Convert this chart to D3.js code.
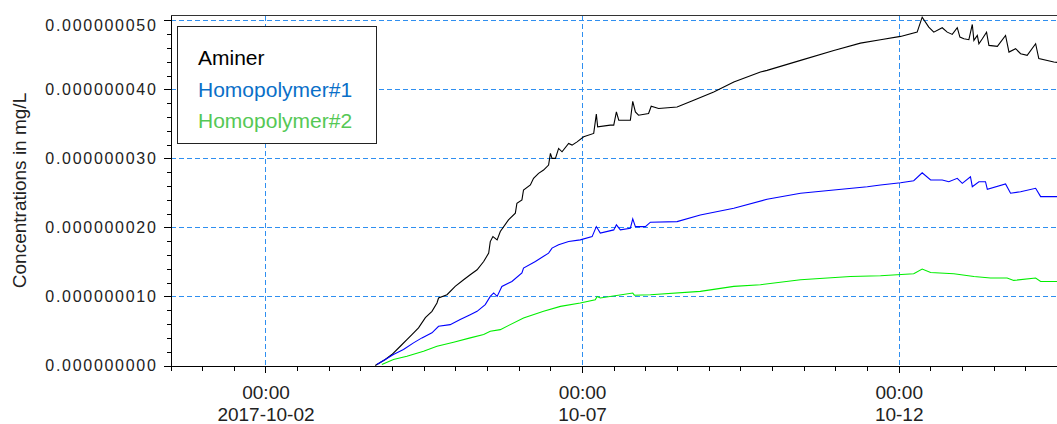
<!DOCTYPE html>
<html>
<head>
<script src="https://d3js.org/d3.v7.min.js"></script>
<style>
body { margin: 0; background: #fff; }
svg { font-family: "Liberation Sans", Arial, sans-serif; }
.axis path, .axis line { stroke: #000; shape-rendering: crispEdges; }
.ylab text { fill: #222; font-size: 16px; letter-spacing: 1.7px; }
.xlab text { fill: #222; font-size: 19px; }
.grid line { stroke: #2f8ff0; stroke-dasharray: 5,3; shape-rendering: crispEdges; }
.series { fill: none; stroke-width: 1.1; }
</style>
</head>
<body>
<script>
// concentrations are kept in units of 1e-9 mg/L, time in hours from 2017-10-02 00:00 (UTC)
var aminer = [
  [41.6,0],[45.4,0.87],[47.9,1.59],[51.1,2.79],[53.6,3.76],[55.5,4.48],[58.0,5.45],[60.6,6.94],
  [63.1,7.85],[65.0,9.06],[65.6,9.78],[68.8,10.26],[71.9,11.46],[75.1,12.43],[77.6,13.15],[80.2,13.87],
  [82.7,15.07],[84.6,16.29],[85.2,17.96],[86.2,18.68],[87.8,18.21],[89.0,19.41],[92.1,21.10],[94.7,22.07],
  [95.3,23.51],[97.2,23.99],[97.8,25.43],[100.4,26.16],[101.6,27.12],[103.5,27.85],[105.4,28.32],[107.3,29.05],
  [108.0,30.74],[108.6,30.01],[109.9,30.01],[111.1,31.46],[112.4,30.97],[114.9,32.18],[116.2,31.94],[118.1,32.41],
  [120.6,33.14],[124.4,33.63],[125.4,36.42],[125.9,34.58],[130.7,34.83],[132.0,34.83],[133.0,36.75],[133.9,35.55],
  [138.3,35.55],[139.2,38.29],[140.2,36.75],[141.4,36.27],[145.2,36.52],[146.2,37.57],[149.0,37.24],[156.0,37.47],
  [162.3,38.44],[169.9,39.64],[177.5,41.08],[187.6,42.53],[190.1,42.77],[202.8,44.22],[215.4,45.66],[225.5,46.72],
  [233.1,47.21],[240.7,47.69],[247.0,48.31],[248.9,50.48],[251.4,49.03],[253.3,48.31],[256.5,48.95],[258.4,48.31],
  [260.3,47.98],[262.2,48.95],[263.2,47.59],[264.7,47.36],[266.6,47.21],[267.9,49.42],[268.5,47.11],[269.8,47.83],
  [270.4,46.63],[271.7,47.36],[273.3,48.31],[274.2,46.39],[277.4,46.24],[280.5,47.83],[281.8,45.42],[284.3,45.91],
  [286.2,45.19],[288.7,44.94],[291.9,46.63],[293.1,44.47],[298.8,43.97],[300.0,43.93]
];
var homopolymer1 = [
  [42.2,0.14],[45.4,0.87],[48.5,1.59],[52.3,2.31],[56.1,3.28],[59.3,4.00],[63.1,4.73],[65.6,5.68],
  [70.0,5.92],[73.8,6.65],[77.6,7.37],[80.2,7.85],[83.3,8.82],[85.2,10.01],[86.5,10.51],[87.8,10.01],
  [89.6,11.46],[93.4,12.18],[97.2,13.40],[97.8,14.12],[102.3,15.07],[107.3,16.29],[108.6,17.01],[111.1,17.49],
  [114.9,17.96],[119.3,18.21],[123.8,18.68],[125.4,20.13],[126.9,19.18],[132.0,19.65],[133.0,20.38],[134.5,19.65],
  [138.3,19.90],[139.2,21.24],[140.2,20.13],[144.0,20.13],[145.9,20.77],[156.0,20.85],[164.8,21.82],[177.5,22.79],
  [190.1,24.09],[202.8,24.96],[215.4,25.43],[228.1,25.91],[233.1,26.16],[240.7,26.49],[245.7,26.78],[248.9,27.93],
  [252.1,26.88],[256.5,26.88],[259.0,26.63],[262.2,27.12],[264.1,26.40],[267.2,27.36],[267.9,25.91],[270.4,26.63],
  [272.9,26.63],[273.6,25.53],[280.5,26.30],[282.4,24.96],[286.2,25.19],[291.9,25.68],[293.8,24.47],[300.0,24.47]
];
var homopolymer2 = [
  [44.1,0.14],[48.5,0.87],[53.6,1.34],[59.9,2.07],[65.0,2.79],[71.3,3.37],[77.6,4.00],[82.7,4.48],
  [85.2,4.96],[89.0,5.20],[97.8,6.89],[105.4,7.85],[111.8,8.57],[119.3,9.06],[125.0,9.54],[125.7,10.01],
  [126.9,9.78],[139.2,10.51],[139.8,10.19],[145.9,10.26],[164.8,10.74],[177.5,11.46],[187.6,11.71],[202.8,12.43],
  [221.7,12.90],[233.1,13.01],[245.7,13.29],[248.9,13.97],[252.1,13.48],[260.9,13.29],[268.5,12.90],[274.8,12.67],
  [281.1,12.67],[283.6,12.33],[291.9,12.67],[293.8,12.18],[300.0,12.18]
];

var seriesNames = ["Aminer", "Homopolymer#1", "Homopolymer#2"];
var lineColors = ["#000000", "#0000ff", "#00ee00"];
var legendColors = ["#000000", "#0a6fc8", "#55c855"];

var yMajor = [0, 10, 20, 30, 40, 50];
var yMinor = [0, 2, 4, 6, 8, 10, 12, 14, 16, 18, 20, 22, 24, 26, 28, 30, 32, 34, 36, 38, 40, 42, 44, 46, 48, 50];
var xMajor = ["2017-10-02", "2017-10-07", "2017-10-12"];
var xMajorTop = ["00:00", "00:00", "00:00"];
var xMajorBottom = ["2017-10-02", "10-07", "10-12"];

var plot = { left: 170.5, right: 1057, top: 15.5, bottom: 365.5 };
var origin = Date.UTC(2017, 9, 2);

var svg = d3.select("body").append("svg")
  .attr("width", 1057)
  .attr("height", 424);

var x = d3.scaleUtc()
  .domain([new Date(Date.UTC(2017, 8, 30, 12)), new Date(Date.UTC(2017, 9, 14, 12))])
  .range([plot.left, plot.right]);
var y = d3.scaleLinear().domain([0, 50.72]).range([plot.bottom, plot.top]);

function toDate(h) { return new Date(origin + h * 3600e3); }
var majorDates = xMajor.map(function (d) { return new Date(d + "T00:00:00Z"); });

// grid
var grid = svg.append("g").attr("class", "grid");
grid.selectAll(".h").data(yMajor.slice(1)).enter().append("line")
  .attr("x1", plot.left).attr("x2", plot.right)
  .attr("y1", function (d) { return Math.round(y(d)) + 0.5; })
  .attr("y2", function (d) { return Math.round(y(d)) + 0.5; });
grid.selectAll(".v").data(majorDates).enter().append("line")
  .attr("x1", function (d) { return Math.round(x(d)) + 0.5; })
  .attr("x2", function (d) { return Math.round(x(d)) + 0.5; })
  .attr("y1", plot.top).attr("y2", plot.bottom);

// series
var line = d3.line()
  .x(function (d) { return x(toDate(d[0])); })
  .y(function (d) { return y(d[1]); });

[aminer, homopolymer1, homopolymer2].forEach(function (s, i) {
  svg.append("path").attr("class", "series")
    .attr("stroke", lineColors[i])
    .attr("d", line(s));
});

// y axis
var fmt = function (v) { return (v * 1e-9).toFixed(9); };
svg.append("g").attr("class", "axis")
  .attr("transform", "translate(" + plot.left + ",0)")
  .call(d3.axisLeft(y).tickValues(yMinor).tickSize(4).tickSizeOuter(0).tickFormat(""));
var ya = svg.append("g").attr("class", "axis ylab")
  .attr("transform", "translate(" + plot.left + ",0)")
  .call(d3.axisLeft(y).tickValues(yMajor).tickSize(7).tickSizeOuter(0).tickPadding(6).tickFormat(fmt));
ya.selectAll(".tick text").attr("font-family", null).attr("font-size", null)
  .attr("dy", function (d) { return d === 50 ? "0.6em" : "0.34em"; });

// x axis
svg.append("g").attr("class", "axis")
  .attr("transform", "translate(0," + plot.bottom + ")")
  .call(d3.axisBottom(x).ticks(d3.utcHour.every(12)).tickSize(5).tickSizeOuter(0).tickFormat(""));
var xa = svg.append("g").attr("class", "axis xlab")
  .attr("transform", "translate(0," + plot.bottom + ")")
  .call(d3.axisBottom(x).tickValues(majorDates).tickSize(7).tickSizeOuter(0));
xa.selectAll(".tick text").remove();
xa.selectAll(".tick").append("text")
  .attr("text-anchor", "middle")
  .each(function (d, i) {
    var t = d3.select(this);
    t.append("tspan").attr("x", 0).attr("y", 33.5).text(xMajorTop[i]);
    t.append("tspan").attr("x", 0).attr("y", 55).text(xMajorBottom[i]);
  });

// top frame
svg.append("line")
  .attr("x1", plot.left).attr("x2", plot.right)
  .attr("y1", plot.top).attr("y2", plot.top)
  .attr("stroke", "#333").attr("shape-rendering", "crispEdges");

// y title
svg.append("text")
  .attr("transform", "translate(26," + (plot.top + plot.bottom) / 2 + ") rotate(-90)")
  .attr("text-anchor", "middle")
  .attr("font-size", 19)
  .attr("fill", "#222")
  .text("Concentrations in mg/L");

// legend
var legend = svg.append("g");
legend.append("rect")
  .attr("x", 177.5).attr("y", 26.5).attr("width", 198.5).attr("height", 117)
  .attr("fill", "#fff").attr("stroke", "#222").attr("shape-rendering", "crispEdges");
legend.selectAll("text").data(seriesNames).enter().append("text")
  .attr("x", 198)
  .attr("y", function (d, i) { return 65 + i * 31.7; })
  .attr("font-size", 21)
  .attr("fill", function (d, i) { return legendColors[i]; })
  .text(function (d) { return d; });
</script>
</body>
</html>
